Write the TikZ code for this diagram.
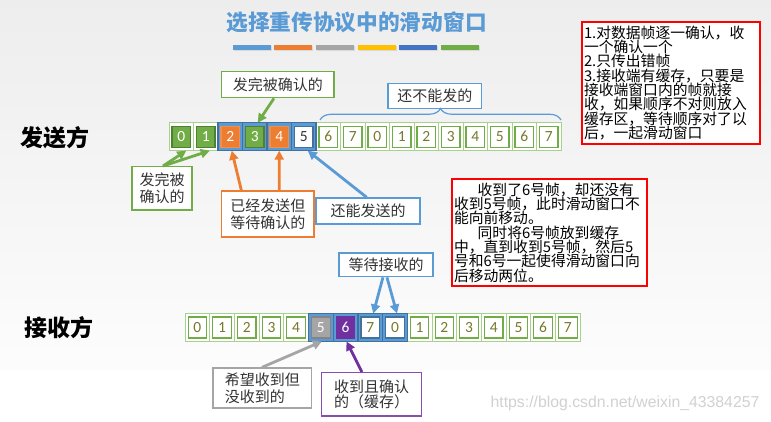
\documentclass[tikz,border=0pt]{standalone}
\usepackage{fontspec}
\setmainfont{Carlito}
\newfontfamily\cjk{Noto Sans CJK SC}
\newfontfamily\digitf{Carlito}
\newfontfamily\wmf{Liberation Sans}
\usetikzlibrary{arrows.meta,decorations.pathreplacing,calc}
\definecolor{cgreen}{HTML}{70AD47}
\definecolor{cdgreen}{HTML}{507E32}
\definecolor{clgreen}{HTML}{A9D18E}
\definecolor{cblue}{HTML}{5B9BD5}
\definecolor{cdblue}{HTML}{41719C}
\definecolor{corange}{HTML}{ED7D31}
\definecolor{cgray}{HTML}{A5A5A5}
\definecolor{cgold}{HTML}{FFC000}
\definecolor{cblue2}{HTML}{4472C4}
\definecolor{cpurple}{HTML}{7030A0}
\definecolor{colive}{HTML}{77782C}
\definecolor{ctext}{HTML}{333333}
\tikzset{
  cellout/.style={draw=clgreen, fill=white, line width=1pt, minimum width=24.5pt, minimum height=28pt, inner sep=0pt, outer sep=0pt},
  outblue/.style={cellout, draw=cdblue, fill=cblue, line width=1.2pt},
  cellin/.style={draw=cgreen, line width=1.1pt, fill=white, minimum width=18.5pt, minimum height=21pt, inner sep=0pt, text=colive, font=\digitf\fontsize{15.5}{15.5}\selectfont},
  ingreen/.style={cellin, fill=cgreen, draw=cdgreen, text=white},
  inorange/.style={cellin, fill=corange, draw=corange!85!white, text=white},
  inwhiteb/.style={cellin, draw=cdblue},
  ingray/.style={cellin, fill=cgray, draw=cgray!80!black, text=white},
  inpurple/.style={cellin, fill=cpurple, draw=cpurple, text=white},
  callout/.style={draw=#1, line width=1.3pt, fill=white, inner sep=2pt, text=ctext, font=\cjk\fontsize{15}{17}\selectfont},
  redbox/.style={draw=red, line width=2pt, fill=white, inner xsep=2pt, inner ysep=0pt, align=left, text=black, font=\cjk\fontsize{14.8}{14.3}\selectfont, anchor=north west},
  arr/.style={draw=#1, line width=2.8pt, -{Triangle[length=9pt,width=9pt]}},
}
\begin{document}
\begin{tikzpicture}[x=1pt,y=-1pt]
\useasboundingbox (0,0) rectangle (771,422);
\shade[top color=black!7, bottom color=black!1] (0,0) rectangle (771,370);
\fill[white] (0,370) rectangle (771,422);

% title
\node[text=cblue, font=\cjk\bfseries\fontsize{21.7}{22}\selectfont] (title) at (356.5,22.5) {选择重传协议中的滑动窗口};
\foreach \xa/\c in {233/cblue,274/corange,316/cgray,357.7/cgold,399/cblue2,440.7/cgreen}{
  \fill[black!15] (\xa+1,46.5) rectangle (\xa+39,51.5);
  \fill[\c] (\xa,45) rectangle (\xa+38.3,50);
}

% side labels
\node[font=\cjk\bfseries\fontsize{23}{23}\selectfont] (snd) at (55,138) {发送方};
\node[font=\cjk\bfseries\fontsize{23}{23}\selectfont] (rcv) at (58.5,328) {接收方};

% sender row
\foreach \i/\d in {6/6,7/7,8/0,9/1,10/2,11/3,12/4,13/5,14/6,15/7}{
  \node[cellout] (so\i) at ({181.25+24.5*\i},136.7) {};
  \node[cellin] (s\i) at (so\i) {\d};
}
\node[cellout] (so0) at (181.25,136.7) {};
\node[ingreen] (s0) at (so0) {0};
\node[cellout] (so1) at (205.75,136.7) {};
\node[ingreen] (s1) at (so1) {1};
\node[fill=cblue, draw=cdblue, line width=1.4pt, minimum width=98pt, minimum height=28pt, inner sep=0pt] (swin) at (267,136.7) {};
\node[outblue] (so2) at (230.25,136.7) {};
\node[inorange] (s2) at (so2) {2};
\node[outblue] (so3) at (254.75,136.7) {};
\node[ingreen] (s3) at (so3) {3};
\node[outblue] (so4) at (279.25,136.7) {};
\node[inorange] (s4) at (so4) {4};
\node[outblue] (so5) at (303.75,136.7) {};
\node[inwhiteb, text=ctext] (s5) at (so5) {5};

% receiver row
\foreach \i/\d in {0/0,1/1,2/2,3/3,4/4,9/1,10/2,11/3,12/4,13/5,14/6,15/7}{
  \node[cellout, minimum width=24.7pt] (ro\i) at ({197.35+24.7*\i},327.5) {};
  \node[cellin] (r\i) at (ro\i) {\d};
}
\node[fill=cblue, draw=cdblue, line width=1.4pt, minimum width=98.8pt, minimum height=28.4pt, inner sep=0pt] (rwin) at (357.9,327.5) {};
\node[outblue, minimum width=24.7pt] (ro5) at (320.85,327.5) {};
\node[ingray] (r5) at (ro5) {5};
\node[outblue, minimum width=24.7pt] (ro6) at (345.55,327.5) {};
\node[inpurple] (r6) at (ro6) {6};
\node[outblue, minimum width=24.7pt] (ro7) at (370.25,327.5) {};
\node[inwhiteb] (r7) at (ro7) {7};
\node[outblue, minimum width=24.7pt] (ro8) at (394.95,327.5) {};
\node[inwhiteb] (r8) at (ro8) {0};

% callouts
\node[callout=cgreen, minimum width=112.3pt, minimum height=26pt] (ack1) at (277.85,84.7) {发完被确认的};
\node[callout=cblue, minimum width=93.7pt, minimum height=25pt] (nsend) at (434.85,95.8) {还不能发的};
\node[callout=cgreen, minimum width=60pt, minimum height=43.3pt, align=center] (ack2) at (162,188.3) {发完被\\确认的};
\node[callout=corange, minimum width=92.3pt, minimum height=46pt, align=center, font=\cjk\fontsize{15}{16.7}\selectfont] (wait) at (267.85,214) {已经发送但\\等待确认的};
\node[callout=cblue, minimum width=104pt, minimum height=26pt] (can) at (368,211) {还能发送的};
\node[callout=cblue, minimum width=94pt, minimum height=23.7pt] (wr) at (386,264.85) {等待接收的};
\node[callout=cgray, minimum width=98.7pt, minimum height=40pt, align=left] (hope) at (262.35,388) {希望收到但\\没收到的};
\node[callout=cpurple!85!white, minimum width=100pt, minimum height=43.3pt, align=left, font=\cjk\fontsize{15}{15}\selectfont] (got) at (371.7,394.35) {收到且确认\\的（缓存）};

% brace
\coordinate (bra) at ([xshift=4pt,yshift=2.7pt]so6.north west);
\coordinate (brb) at ([yshift=2.7pt]so15.north east);
\draw[cblue, line width=1.2pt, decorate, decoration={brace, amplitude=11.5pt}] (bra) -- (brb);

% arrows
\draw[arr=cgreen] ($(ack1.south west)!0.466!(ack1.south east)$) -- ([xshift=3pt]so3.north);
\draw[arr=cgreen] ($(ack2.north west)!0.517!(ack2.north east)$) -- ([xshift=5pt]so0.south);
\draw[arr=cgreen] ($(ack2.north west)!0.517!(ack2.north east)$) -- ([xshift=4pt]so1.south);
\draw[arr=corange] ($(wait.north west)!0.217!(wait.north east)$) -- ([xshift=1.5pt]so2.south);
\draw[arr=corange] ($(wait.north west)!0.621!(wait.north east)$) -- (so4.south);
\draw[arr=cblue] ($(can.north west)!0.4875!(can.north east)$) -- ([xshift=4pt]so5.south);
\draw[arr=cblue] ($(wr.south west)!0.468!(wr.south east)$) -- ([xshift=3pt]ro7.north);
\draw[arr=cblue] ($(wr.south west)!0.51!(wr.south east)$) -- ([xshift=2pt]ro8.north);
\draw[arr=cgray] ($(hope.north west)!0.496!(hope.north east)$) -- ([xshift=1pt]ro5.south);
\draw[arr=cpurple] ($(got.north west)!0.403!(got.north east)$) -- ([xshift=1pt]ro6.south);

% red notes
\node[redbox, text width=174pt, minimum height=121.7pt] (note1) at (581,21) {1.对数据帧逐一确认，收\\一个确认一个\\2.只传出错帧\\3.接收端有缓存，只要是\\接收端窗口内的帧就接\\收，如果顺序不对则放入\\缓存区，等待顺序对了以\\后，一起滑动窗口};
\node[redbox, text width=190.7pt, minimum height=106.7pt] (note2) at (451,178.3) {\hspace*{1.6em}收到了6号帧，却还没有\\收到5号帧，此时滑动窗口不\\能向前移动。\\\hspace*{1.6em}同时将6号帧放到缓存\\中，直到收到5号帧，然后5\\号和6号一起使得滑动窗口向\\后移动两位。};

% watermark
\node[text=black!18, font=\wmf\fontsize{15.8}{16}\selectfont] (wm) at (625,403) {https://blog.csdn.net/weixin\_43384257};
\end{tikzpicture}
\end{document}
